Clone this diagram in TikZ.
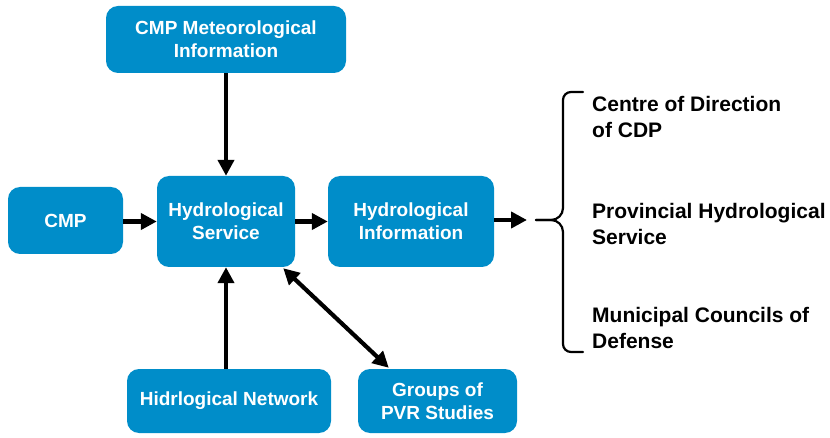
\documentclass[tikz,border=0pt]{standalone}
\usepackage{fontspec}
\setmainfont{Liberation Sans}
\usetikzlibrary{arrows.meta,calc}
\definecolor{boxblue}{RGB}{0,141,201}
\tikzset{
  box/.style={fill=boxblue, rounded corners=12pt, text=white, align=center,
    inner sep=0pt, font=\bfseries\fontsize{19}{23}\selectfont},
  flow/.style={line width=4.5pt, -{Triangle[length=16pt,width=16pt]}},
  twoway/.style={line width=4.2pt, {Triangle[length=16pt,width=16pt]}-{Triangle[length=16pt,width=16pt]}},
  bracket/.style={line width=2.2pt, line cap=round},
  target/.style={anchor=west, align=left, inner sep=0pt,
    font=\bfseries\fontsize{21}{26}\selectfont}
}
\begin{document}
\begin{tikzpicture}[x=1pt,y=-1pt]
  \useasboundingbox (0,0) rectangle (830,438);

  % blue boxes
  \node[box, minimum width=240pt, minimum height=67pt] (meteo) at (226,39.5)
    {CMP Meteorological\\Information};
  \node[box, minimum width=115pt, minimum height=67pt] (cmp) at (65.5,220.5) {CMP};
  \node[box, minimum width=138pt, minimum height=91pt] (serv) at (226,221.5)
    {Hydrological\\Service};
  \node[box, minimum width=166pt, minimum height=91pt] (info) at (411,221.5)
    {Hydrological\\Information};
  \node[box, minimum width=204pt, minimum height=64pt] (net) at (229,401)
    {Hidrlogical Network};
  \node[box, minimum width=159pt, minimum height=64pt] (pvr) at (437.5,401)
    {Groups of\\PVR Studies};

  % connectors
  \draw[flow] (meteo.south -| serv.north) -- (serv.north);
  \draw[flow] (cmp.east |- serv.west) -- (serv.west);
  \draw[flow] (serv.east) -- (info.west);
  \draw[flow] (serv.south |- net.north) -- (serv.south);
  \draw[twoway] ($(serv.south east)+(-12,1)$) -- ($(pvr.north west)+(31,-1)$);

  % bracket collecting the recipients
  \coordinate (tip) at (536,220);
  \coordinate (arrowend) at (527,220);
  \draw[flow] (info.east |- tip) -- (arrowend);
  \draw[bracket] (583,92) -- (571,92) to[out=180,in=90] (563,100) -- (563,208)
    to[out=-90,in=0] (551,220) -- (tip);
  \draw[bracket] (tip) -- (551,220) to[out=0,in=90] (563,232) -- (563,344)
    to[out=-90,in=180] (571,352) -- (583,352);

  % recipients
  \node[target] (cdp) at (592,117) {Centre of Direction\\of CDP};
  \node[target] (prov) at (592,224) {Provincial Hydrological\\Service};
  \node[target] (mun) at (592,328) {Municipal Councils of\\Defense};
\end{tikzpicture}
\end{document}
